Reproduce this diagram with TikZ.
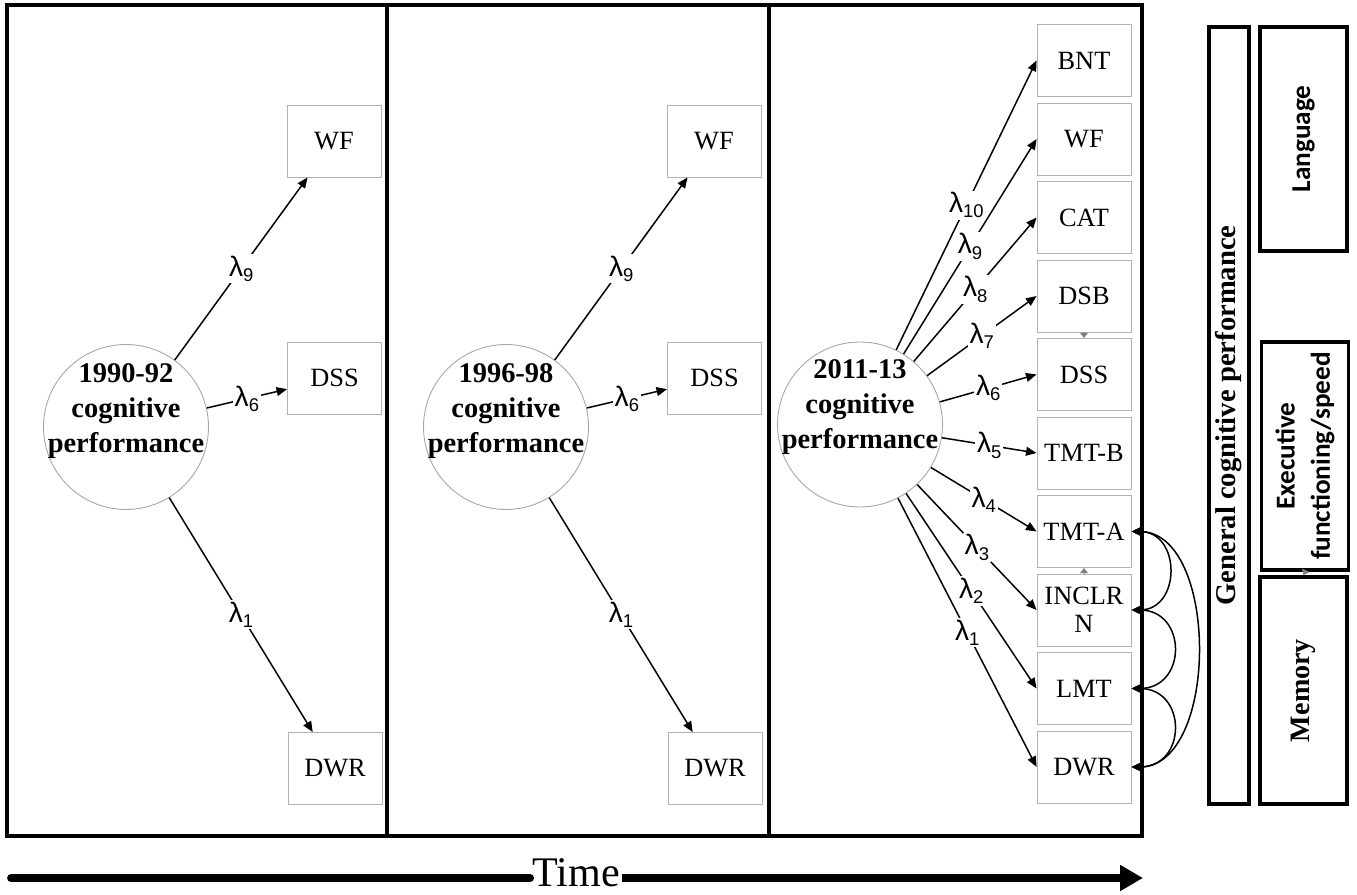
\documentclass[tikz,border=0pt]{standalone}
\usepackage{fontspec}
\setmainfont{Liberation Serif}
\setsansfont{Liberation Sans}
\newfontfamily\calib{Carlito}
\usepackage{tikz}
\usetikzlibrary{arrows.meta,positioning}
\newcommand{\obsfont}{\fontsize{15}{16}\selectfont}
\newcommand{\latfont}{\bfseries\fontsize{16.2}{19.9}\selectfont}
\newcommand{\loadlab}[1]{\sffamily\fontsize{16}{17}\selectfont λ\raisebox{-3pt}{\fontsize{10.5}{10}\selectfont #1}}

\begin{document}
\begin{tikzpicture}[
  x=0.02cm, y=-0.02cm,
  obs/.style={draw=gray!60,line width=0.5pt,fill=white,minimum width=1.88cm,minimum height=1.44cm,inner sep=1pt,align=center,font=\obsfont},
  latent/.style={circle,draw=gray!70,line width=0.5pt,minimum size=3.3cm,inner sep=0pt},
  lbl/.style={align=center,font=\latfont},
  ar/.style={-{Triangle[length=6pt,width=5pt]},line width=0.85pt},
  lam/.style={midway,fill=white,inner sep=1pt},
  corr/.style={{Triangle[length=5pt,width=4.5pt]}-{Triangle[length=5pt,width=4.5pt]},line width=0.85pt},
  frame/.style={line width=2pt},
  areabox/.style={draw,line width=2.2pt,rotate=90,inner sep=0pt,align=center},
  nudge/.style={gray,line width=0.4pt,-{Triangle[length=3pt,width=4.5pt]}}
]
\useasboundingbox (0,0) rectangle (1357,895);

% three waves
\draw[frame] (7,5) rectangle (1142,836);
\draw[frame] (387,5) -- (387,836) (769,5) -- (769,836);

% first two waves: WF, DSS, DWR only
\foreach \yr/\dx/\p in {1990-92/0/A, 1996-98/380/B} {
  \node[latent] (cog\p) at (126+\dx,427) {};
  \node[lbl] at ([yshift=9pt]cog\p.center) {\yr\\cognitive\\performance};
  \node[obs] (wf\p) at (334+\dx,141) {WF};
  \node[obs] (dss\p) at (334.5+\dx,378) {DSS};
  \node[obs] (dwr\p) at (335+\dx,768.5) {DWR};
  \draw[ar] (cog\p) -- node[lam]{\loadlab{9}} (wf\p);
  \draw[ar] (cog\p) -- node[lam]{\loadlab{6}} (dss\p);
  \draw[ar] (cog\p) -- node[lam]{\loadlab{1}} (dwr\p);
}

% last wave: full battery
\node[latent] (cogC) at (860,424.5) {};
\node[lbl] at ([yshift=10pt]cogC.center) {2011-13\\cognitive\\performance};
\foreach \n/\txt [count=\i from 0] in {bnt/BNT, wf/WF, cat/CAT, dsb/DSB, dss/DSS, tmtb/TMT-B, tmta/TMT-A, inclrn/INCLR\\N, lmt/LMT, dwr/DWR}
  \node[obs] (\n) at (1084,60.5+78.5*\i) {\txt};
\foreach \n/\k in {bnt/10, wf/9, cat/8, dsb/7, dss/6, tmtb/5, tmta/4, inclrn/3, lmt/2, dwr/1}
  \draw[ar] (cogC) -- node[lam]{\loadlab{\k}} (\n.west);

\draw[nudge] (dsb.south) -- (dss.north);
\draw[nudge] (inclrn.north) -- (tmta.south);

% residual covariances
\draw[corr] (tmta.east) .. controls +(50,0) and +(50,0) .. (inclrn.east);
\draw[corr] (inclrn.east) .. controls +(56,0) and +(56,0) .. (lmt.east);
\draw[corr] (lmt.east) .. controls +(56,0) and +(56,0) .. (dwr.east);
\draw[corr] (tmta.east) .. controls +(88,0) and +(88,0) .. (dwr.east);

% time axis
\node[font=\fontsize{24}{24}\selectfont,inner sep=1pt] (time) at (576,873) {Time};
\coordinate (t0) at (11,878);
\coordinate (t1) at (1143,878);
\draw[line width=4.5pt,line cap=round] (t0) -- (time.west |- t0);
\draw[line width=4.5pt,-{Triangle[length=13pt,width=14pt]}] (time.east |- t1) -- (t1);

% domains
\node[areabox,minimum width=15.54cm,minimum height=0.8cm,font=\bfseries\fontsize{16.3}{18}\selectfont] (gen) at (1229,415.5) {General cognitive performance};
\node[areabox,minimum width=4.48cm,minimum height=1.74cm,font=\calib\bfseries\fontsize{15.5}{19}\selectfont] (lang) at (1303.5,139) {Language};
\node[areabox,minimum width=4.56cm,minimum height=1.74cm,font=\calib\bfseries\fontsize{15.5}{20}\selectfont] (exec) at (1305,456) {Executive\\functioning/speed};
\node[areabox,minimum width=4.54cm,minimum height=1.74cm,font=\bfseries\fontsize{16}{18}\selectfont] (mem) at (1303.5,690.5) {Memory};
\draw[nudge] (exec.west) -- (mem.east);
\end{tikzpicture}
\end{document}
